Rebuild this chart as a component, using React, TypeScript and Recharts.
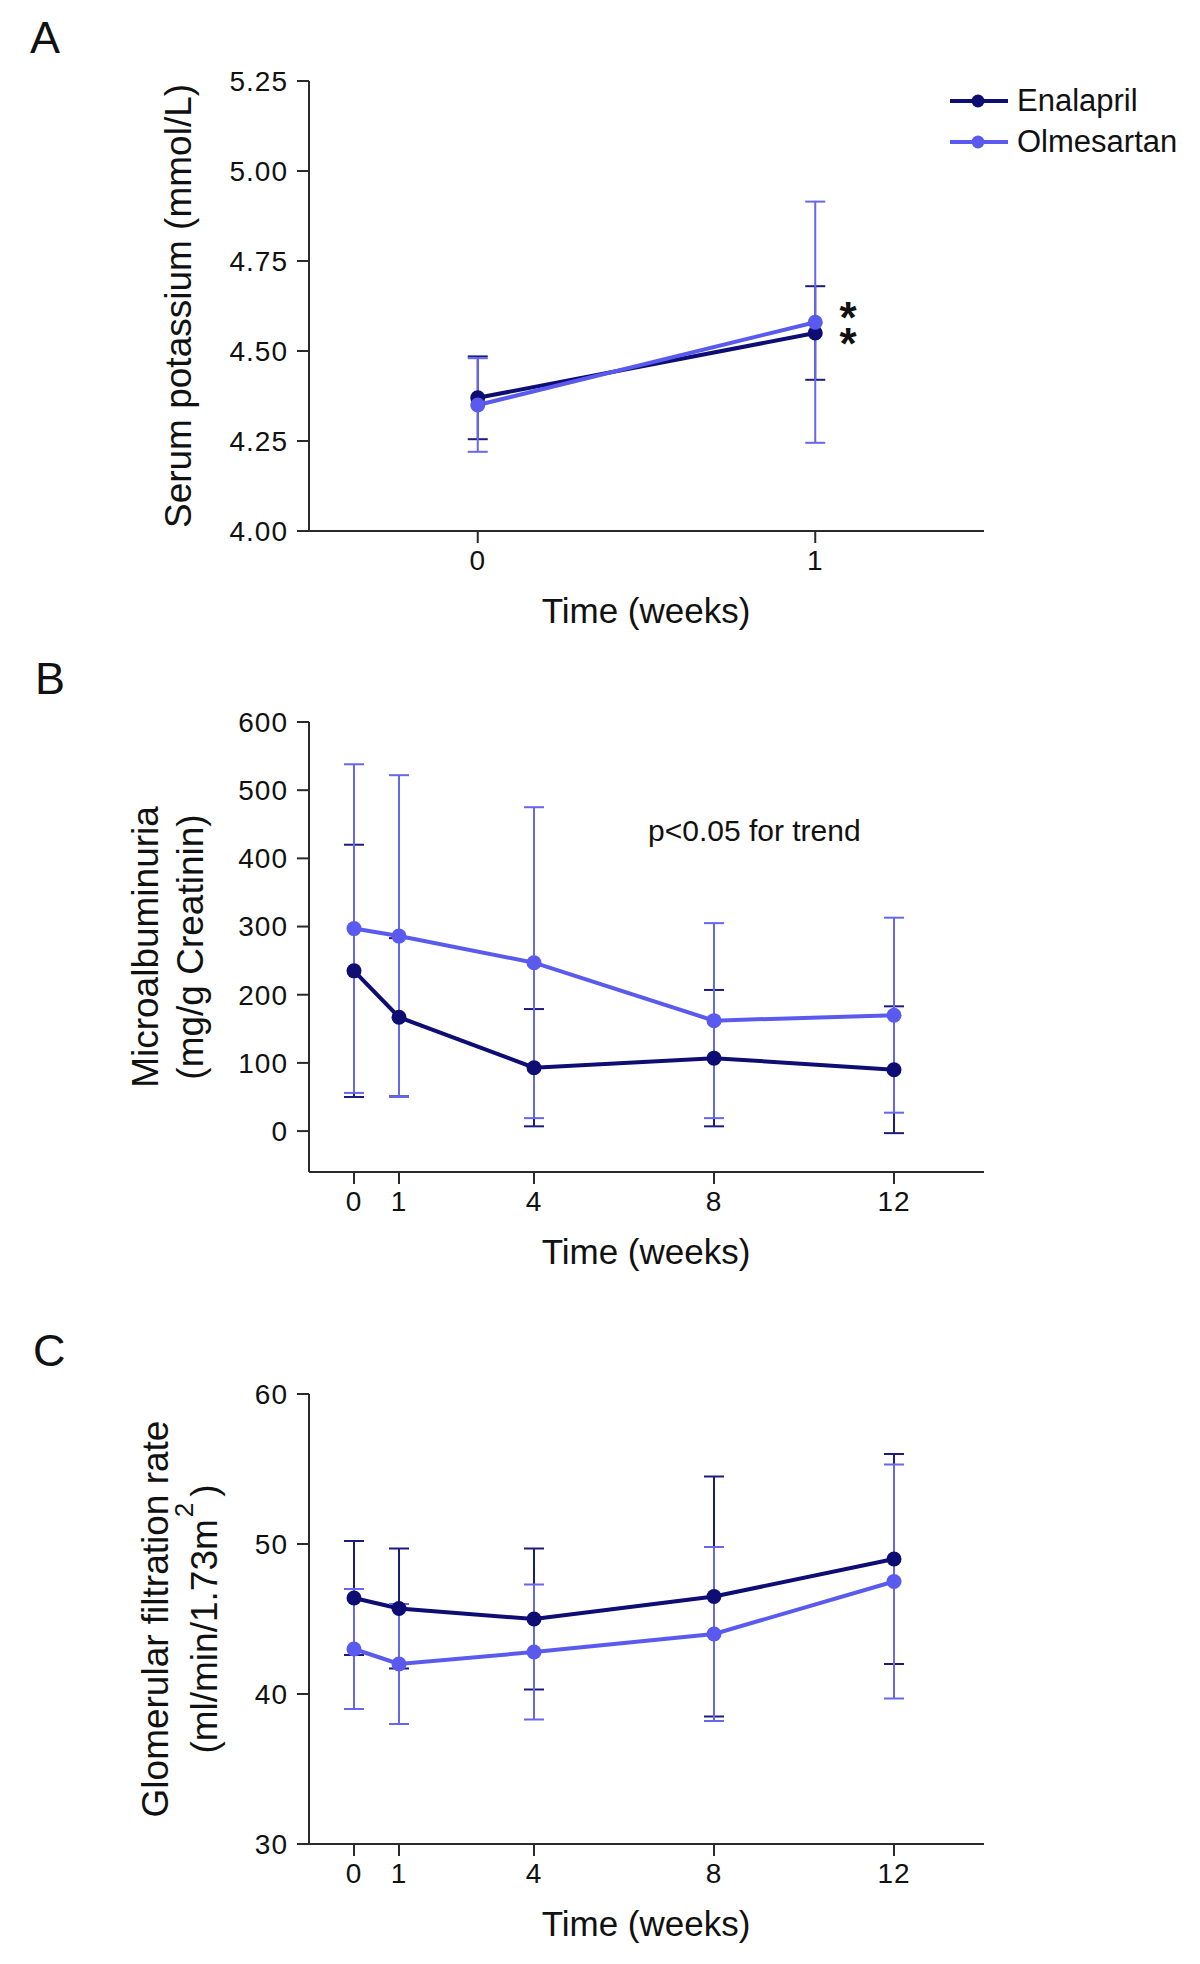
import type { ReactNode } from "react";
import { ErrorBar, Legend, Line, LineChart, XAxis, YAxis } from "recharts";

const FONT = "'Liberation Sans', Arial, Helvetica, sans-serif";
const DARK = "#0d0d73";
const LIGHT = "#5a5aef";
const DARK_ERR = "#1c1c7e";
const LIGHT_ERR = "#6666ee";
const AXIS = "#2a2a2a";
const INK = "#111111";

// A: serum potassium (mmol/L), mean ± SD
const weeksA = [0, 1];
const potassiumEnalapril = [4.37, 4.55];
const potassiumEnalaprilSd = [0.115, 0.13];
const potassiumOlmesartan = [4.35, 4.58];
const potassiumOlmesartanSd = [0.13, 0.335];
const potassiumTicks = [4.0, 4.25, 4.5, 4.75, 5.0, 5.25];

// B and C share the time points
const weeks = [0, 1, 4, 8, 12];

// B: microalbuminuria (mg/g creatinin)
const albEnalapril = [235, 167, 93, 107, 90];
const albEnalaprilSd = [185, 116, 86, 100, 93];
const albOlmesartan = [297, 286, 247, 162, 170];
const albOlmesartanSd = [241, 236, 228, 143, 143];
const albTicks = [0, 100, 200, 300, 400, 500, 600];

// C: glomerular filtration rate (ml/min/1.73m2)
const gfrEnalapril = [46.4, 45.7, 45.0, 46.5, 49.0];
const gfrEnalaprilSd = [3.8, 4.0, 4.7, 8.0, 7.0];
const gfrOlmesartan = [43.0, 42.0, 42.8, 44.0, 47.5];
const gfrOlmesartanSd = [4.0, 4.0, 4.5, 5.8, 7.8];
const gfrTicks = [30, 40, 50, 60];

interface Row {
  week: number;
  ena: number;
  enaSd: number;
  olm: number;
  olmSd: number;
}

function makeRows(
  x: number[],
  ena: number[],
  enaSd: number[],
  olm: number[],
  olmSd: number[]
): Row[] {
  return x.map((week, i) => ({
    week,
    ena: ena[i],
    enaSd: enaSd[i],
    olm: olm[i],
    olmSd: olmSd[i],
  }));
}

const rowsA = makeRows(weeksA, potassiumEnalapril, potassiumEnalaprilSd, potassiumOlmesartan, potassiumOlmesartanSd);
const rowsB = makeRows(weeks, albEnalapril, albEnalaprilSd, albOlmesartan, albOlmesartanSd);
const rowsC = makeRows(weeks, gfrEnalapril, gfrEnalaprilSd, gfrOlmesartan, gfrOlmesartanSd);

// plot area inside every chart: x 309..984, y 81..531
const PLOT_MID_Y = 306;

interface LegendItem {
  value?: string;
  color?: string;
}

function LegendContent({ payload }: { payload?: LegendItem[] }) {
  if (!payload) return null;
  return (
    <div style={{ fontFamily: FONT, fontSize: 31, color: INK, lineHeight: "41px" }}>
      {payload.map((item) => (
        <div key={item.value} style={{ display: "flex", alignItems: "center", height: 41 }}>
          <svg width={58} height={16} style={{ marginRight: 9 }}>
            <line x1={0} y1={8} x2={58} y2={8} stroke={item.color} strokeWidth={4} />
            <circle cx={28} cy={8} r={6.5} fill={item.color} />
          </svg>
          <span>{item.value}</span>
        </div>
      ))}
    </div>
  );
}

function xTitle() {
  return (
    <text x={646} y={623} textAnchor="middle" fontSize={35} fontFamily={FONT} fill={INK}>
      Time (weeks)
    </text>
  );
}

function yTitle(lines: ReactNode[], xs: number[]) {
  return () => (
    <g>
      {lines.map((line, i) => (
        <text
          key={i}
          x={xs[i]}
          y={PLOT_MID_Y}
          transform={`rotate(-90 ${xs[i]} ${PLOT_MID_Y})`}
          textAnchor="middle"
          fontSize={37}
          fontFamily={FONT}
          fill={INK}
        >
          {line}
        </text>
      ))}
    </g>
  );
}

interface PanelProps {
  top: number;
  rows: Row[];
  xDomain: [number, number];
  xTicks: number[];
  yDomain: [number, number];
  yTicks: number[];
  yFormat?: (v: number) => string;
  title: () => ReactNode;
  legend?: boolean;
}

function Panel({ top, rows, xDomain, xTicks, yDomain, yTicks, yFormat, title, legend }: PanelProps) {
  const tickStyle = { fill: INK, fontSize: 28, fontFamily: FONT, letterSpacing: 1 };
  return (
    <div style={{ position: "absolute", left: 0, top }}>
      <LineChart
        width={1200}
        height={640}
        data={rows}
        margin={{ top: 81, right: 216, bottom: 49, left: 209 }}
      >
        <XAxis
          type="number"
          dataKey="week"
          domain={xDomain}
          ticks={xTicks}
          allowDataOverflow
          height={60}
          tickSize={12}
          tickMargin={7}
          axisLine={{ stroke: AXIS, strokeWidth: 2 }}
          tickLine={{ stroke: AXIS, strokeWidth: 2 }}
          tick={tickStyle}
          label={{ content: xTitle }}
        />
        <YAxis
          type="number"
          domain={yDomain}
          ticks={yTicks}
          allowDataOverflow
          width={100}
          tickSize={12}
          tickMargin={9}
          tickFormatter={yFormat}
          axisLine={{ stroke: AXIS, strokeWidth: 2 }}
          tickLine={{ stroke: AXIS, strokeWidth: 2 }}
          tick={tickStyle}
          label={{ content: title }}
        />
        {legend && (
          <Legend
            layout="vertical"
            align="center"
            verticalAlign="middle"
            wrapperStyle={{ top: 80, left: 950, width: 250 }}
            content={<LegendContent />}
          />
        )}
        <Line
          name="Enalapril"
          dataKey="ena"
          type="linear"
          stroke={DARK}
          strokeWidth={4}
          dot={{ r: 7.5, fill: DARK, stroke: DARK, strokeWidth: 0 }}
          activeDot={false}
          isAnimationActive={false}
        >
          <ErrorBar dataKey="enaSd" direction="y" width={10} stroke={DARK_ERR} strokeWidth={2} />
        </Line>
        <Line
          name="Olmesartan"
          dataKey="olm"
          type="linear"
          stroke={LIGHT}
          strokeWidth={4}
          dot={{ r: 7.5, fill: LIGHT, stroke: LIGHT, strokeWidth: 0 }}
          activeDot={false}
          isAnimationActive={false}
        >
          <ErrorBar dataKey="olmSd" direction="y" width={10} stroke={LIGHT_ERR} strokeWidth={2} />
        </Line>
      </LineChart>
    </div>
  );
}

export default function App() {
  return (
    <div
      style={{
        position: "absolute",
        left: 0,
        top: 0,
        width: 1200,
        height: 1964,
        background: "#ffffff",
        fontFamily: FONT,
      }}
    >
      <Panel
        top={0}
        rows={rowsA}
        xDomain={[-0.5, 1.5]}
        xTicks={weeksA}
        yDomain={[4, 5.25]}
        yTicks={potassiumTicks}
        yFormat={(v) => v.toFixed(2)}
        title={yTitle(["Serum potassium (mmol/L)"], [191])}
        legend
      />
      <Panel
        top={641}
        rows={rowsB}
        xDomain={[-1, 14]}
        xTicks={weeks}
        yDomain={[-60, 600]}
        yTicks={albTicks}
        title={yTitle(["Microalbuminuria", "(mg/g Creatinin)"], [158, 203])}
      />
      <Panel
        top={1313}
        rows={rowsC}
        xDomain={[-1, 14]}
        xTicks={weeks}
        yDomain={[30, 60]}
        yTicks={gfrTicks}
        title={yTitle(
          [
            "Glomerular filtration rate",
            <>
              (ml/min/1.73m
              <tspan fontSize={26} dx={2} dy={-24}>
                2
              </tspan>
              <tspan dx={6} dy={24}>)</tspan>
            </>,
          ],
          [168, 217]
        )}
      />
      <svg
        width={1200}
        height={1964}
        style={{ position: "absolute", left: 0, top: 0, pointerEvents: "none" }}
        fontFamily={FONT}
        fill={INK}
      >
        <text x={30} y={53} fontSize={45}>A</text>
        <text x={35} y={694} fontSize={45}>B</text>
        <text x={33} y={1366} fontSize={45}>C</text>
        <text fontSize={44} fontWeight="bold" textAnchor="middle">
          <tspan x={848} y={333}>*</tspan>
          <tspan x={848} y={359}>*</tspan>
        </text>
        <text x={648} y={841} fontSize={30}>p&lt;0.05 for trend</text>
      </svg>
    </div>
  );
}
